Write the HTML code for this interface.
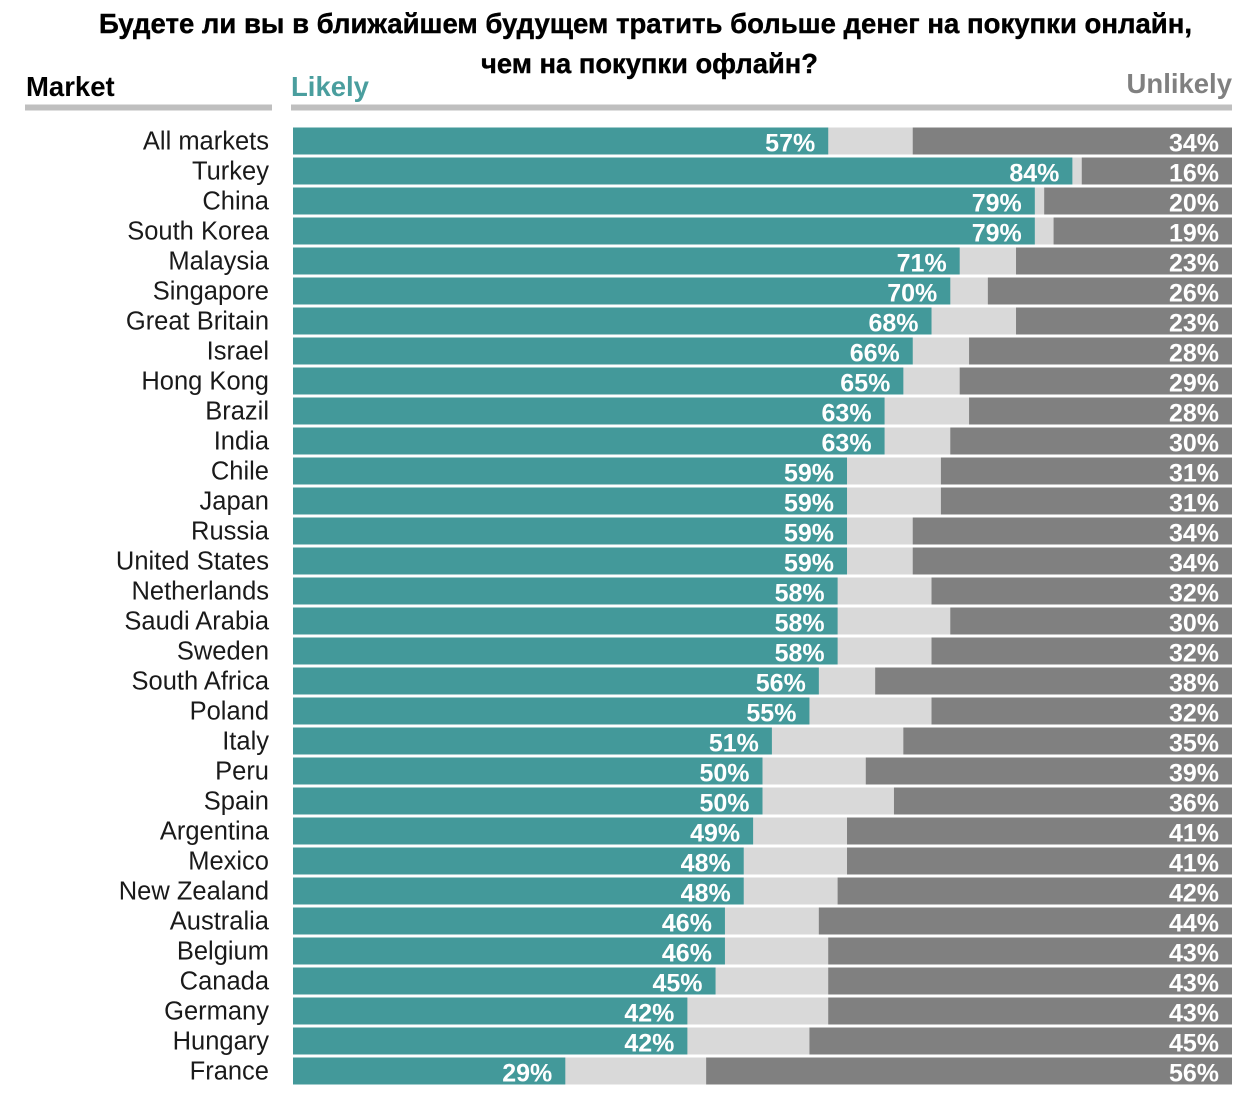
<!DOCTYPE html>
<html>
<head>
<meta charset="utf-8">
<style>
  html,body{margin:0;padding:0;background:#fff;}
  svg{display:block;}
  .t{font-family:"Liberation Sans","DejaVu Sans",sans-serif;font-weight:bold;fill:#000;stroke:#000;stroke-width:0.4px;}
  .n{font-family:"Liberation Sans",sans-serif;font-size:25.5px;fill:#1a1a1a;text-anchor:end;}
  .p{font-family:"Liberation Sans",sans-serif;font-size:25px;font-weight:bold;fill:#fff;text-anchor:end;}
  .h{font-family:"Liberation Sans",sans-serif;font-size:27.5px;font-weight:bold;}
</style>
</head>
<body>
<svg width="1256" height="1095" viewBox="0 0 1256 1095" xmlns="http://www.w3.org/2000/svg">
  <rect width="1256" height="1095" fill="#fff"/>
  <text class="t" x="99" y="33" font-size="27.5" textLength="1093" lengthAdjust="spacingAndGlyphs">Будете ли вы в ближайшем будущем тратить больше денег на покупки онлайн,</text>
  <text class="t" x="481" y="73" font-size="27.5" textLength="337" lengthAdjust="spacingAndGlyphs">чем на покупки офлайн?</text>

  <text class="h" x="26" y="96" fill="#000">Market</text>
  <text class="h" x="291" y="96" fill="#4a9e9e">Likely</text>
  <text class="h" x="1232" y="93" fill="#808080" text-anchor="end">Unlikely</text>
  <rect x="25" y="104.5" width="247" height="6" fill="#bfbfbf"/>
  <rect x="291" y="104.5" width="941" height="6" fill="#bfbfbf"/>

  <g id="rows"></g>
</svg>
<script>
(function(){
  var data=[
    ["All markets",57,34,57],["Turkey",84,16,83],["China",79,20,79],["South Korea",79,19,79],
    ["Malaysia",71,23,71],["Singapore",70,26,70],["Great Britain",68,23,68],["Israel",66,28,66],
    ["Hong Kong",65,29,65],["Brazil",63,28,63],["India",63,30,63],["Chile",59,31,59],
    ["Japan",59,31,59],["Russia",59,34,59],["United States",59,34,59],["Netherlands",58,32,58],
    ["Saudi Arabia",58,30,58],["Sweden",58,32,58],["South Africa",56,38,56],["Poland",55,32,55],
    ["Italy",51,35,51],["Peru",50,39,50],["Spain",50,36,50],["Argentina",49,41,49],
    ["Mexico",48,41,48],["New Zealand",48,42,48],["Australia",46,44,46],["Belgium",46,43,46],
    ["Canada",45,43,45],["Germany",42,43,42],["Hungary",42,45,42],["France",29,56,29]
  ];
  var ns="http://www.w3.org/2000/svg",g=document.getElementById("rows");
  var x0=293,x1=1232,W=x1-x0,s=W/100;
  function el(tag,attrs,txt){var e=document.createElementNS(ns,tag);for(var k in attrs)e.setAttribute(k,attrs[k]);if(txt!==undefined)e.textContent=txt;g.appendChild(e);return e;}
  data.forEach(function(d,i){
    var y=127.5+30*i;
    el("rect",{x:x0,y:y,width:W,height:27,fill:"#d9d9d9"});
    var tw=d[3]*s;
    el("rect",{x:x0,y:y,width:tw,height:27,fill:"#43999a"});
    var dw=d[2]*s;
    el("rect",{x:x1-dw,y:y,width:dw,height:27,fill:"#808080"});
    el("text",{"class":"n",x:269,y:y+21.8},d[0]);
    el("text",{"class":"p",x:x0+tw-13,y:y+24},d[1]+"%");
    el("text",{"class":"p",x:1219,y:y+24},d[2]+"%");
  });
})();
</script>
</body>
</html>
